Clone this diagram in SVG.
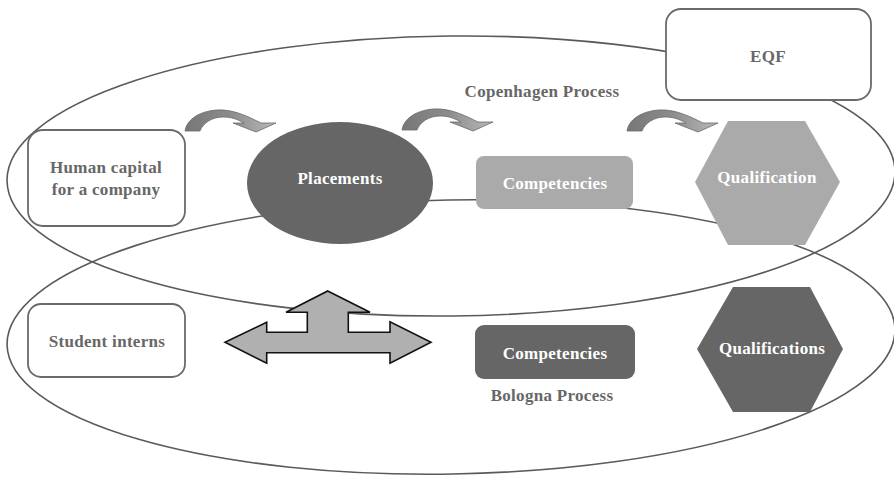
<svg xmlns="http://www.w3.org/2000/svg" width="894" height="477" viewBox="0 0 894 477">
<defs>
<style>
.ring{fill:none;stroke:#5a5a5a;stroke-width:1.6}
.box{fill:#fff;stroke:#6a6a6a;stroke-width:1.8}
.t{font-family:"Liberation Serif","Times New Roman",serif;font-weight:bold;font-size:17px;letter-spacing:0.3px;text-anchor:middle}
.g{fill:#676767}
.w{fill:#fff}
.dark{fill:#666}
.light{fill:#aaa}
.curl{fill:url(#cg);stroke:#686868;stroke-width:0.8}
</style>
<linearGradient id="cg" x1="0" y1="0" x2="1" y2="0">
<stop offset="0" stop-color="#777"/>
<stop offset="0.5" stop-color="#8c8c8c"/>
<stop offset="1" stop-color="#b8b8b8"/>
</linearGradient>
<path id="curl" d="M0,0 C2,-14 20,-22 38,-21 C52,-20 64,-14 76,-8 L91,-8 L71,1 L48,-8 L59,-8 C52,-12 46,-14 38,-14 C27,-14 18,-8 15,0 Z"/>
</defs>
<rect width="894" height="477" fill="#fff"/>
<g id="connectors">
<ellipse class="ring" cx="451" cy="176" rx="444" ry="140" transform="rotate(-0.6 451 176)"/>
<ellipse class="ring" cx="451" cy="337" rx="444" ry="137" transform="rotate(-1 451 337)"/>
<use href="#curl" class="curl" x="185" y="131"/>
<use href="#curl" class="curl" x="402" y="130"/>
<use href="#curl" class="curl" x="627" y="131"/>
</g>
<g id="copenhagen-label"><text class="t g" x="542" y="97">Copenhagen Process</text></g>
<g id="bologna-label"><text class="t g" x="552" y="401">Bologna Process</text></g>
<g id="eqf"><rect class="box" x="666" y="9" width="205" height="91" rx="15"/><text class="t g" x="768" y="62">EQF</text></g>
<g id="human-capital"><rect class="box" x="28" y="130" width="157" height="96" rx="15"/><text class="t g" x="106" y="173">Human capital</text><text class="t g" x="106" y="195">for a company</text></g>
<g id="placements"><ellipse class="dark" cx="340" cy="183" rx="93" ry="61"/><text class="t w" x="340" y="184">Placements</text></g>
<g id="competencies-top"><rect class="light" x="476" y="156" width="157" height="53" rx="8"/><text class="t w" x="555" y="189">Competencies</text></g>
<g id="qualification"><polygon class="light" points="695,182 728,121 805,121 840,182 805,245 728,245"/><text class="t w" x="767" y="183">Qualification</text></g>
<g id="student-interns"><rect class="box" x="28" y="304" width="157" height="73" rx="13"/><text class="t g" x="107" y="347">Student interns</text></g>
<g id="cross-arrow"><polygon points="327.7,291 370,312.3 348.3,312.3 348.3,332.3 390,332.3 390,321.7 431,342.3 390,363.3 390,352.7 266.7,352.7 266.7,363.3 225,342.3 266.7,322.3 266.7,332.3 307.3,332.3 307.3,312.3 286,312.3" fill="#b0b0b0" stroke="#111" stroke-width="1.6" stroke-linejoin="miter"/></g>
<g id="competencies-bottom"><rect class="dark" x="475" y="325" width="160" height="54" rx="9"/><text class="t w" x="555" y="359">Competencies</text></g>
<g id="qualifications"><polygon class="dark" points="697,349 733,287 810,287 843,349 810,412 733,412"/><text class="t w" x="772" y="354">Qualifications</text></g>
</svg>
